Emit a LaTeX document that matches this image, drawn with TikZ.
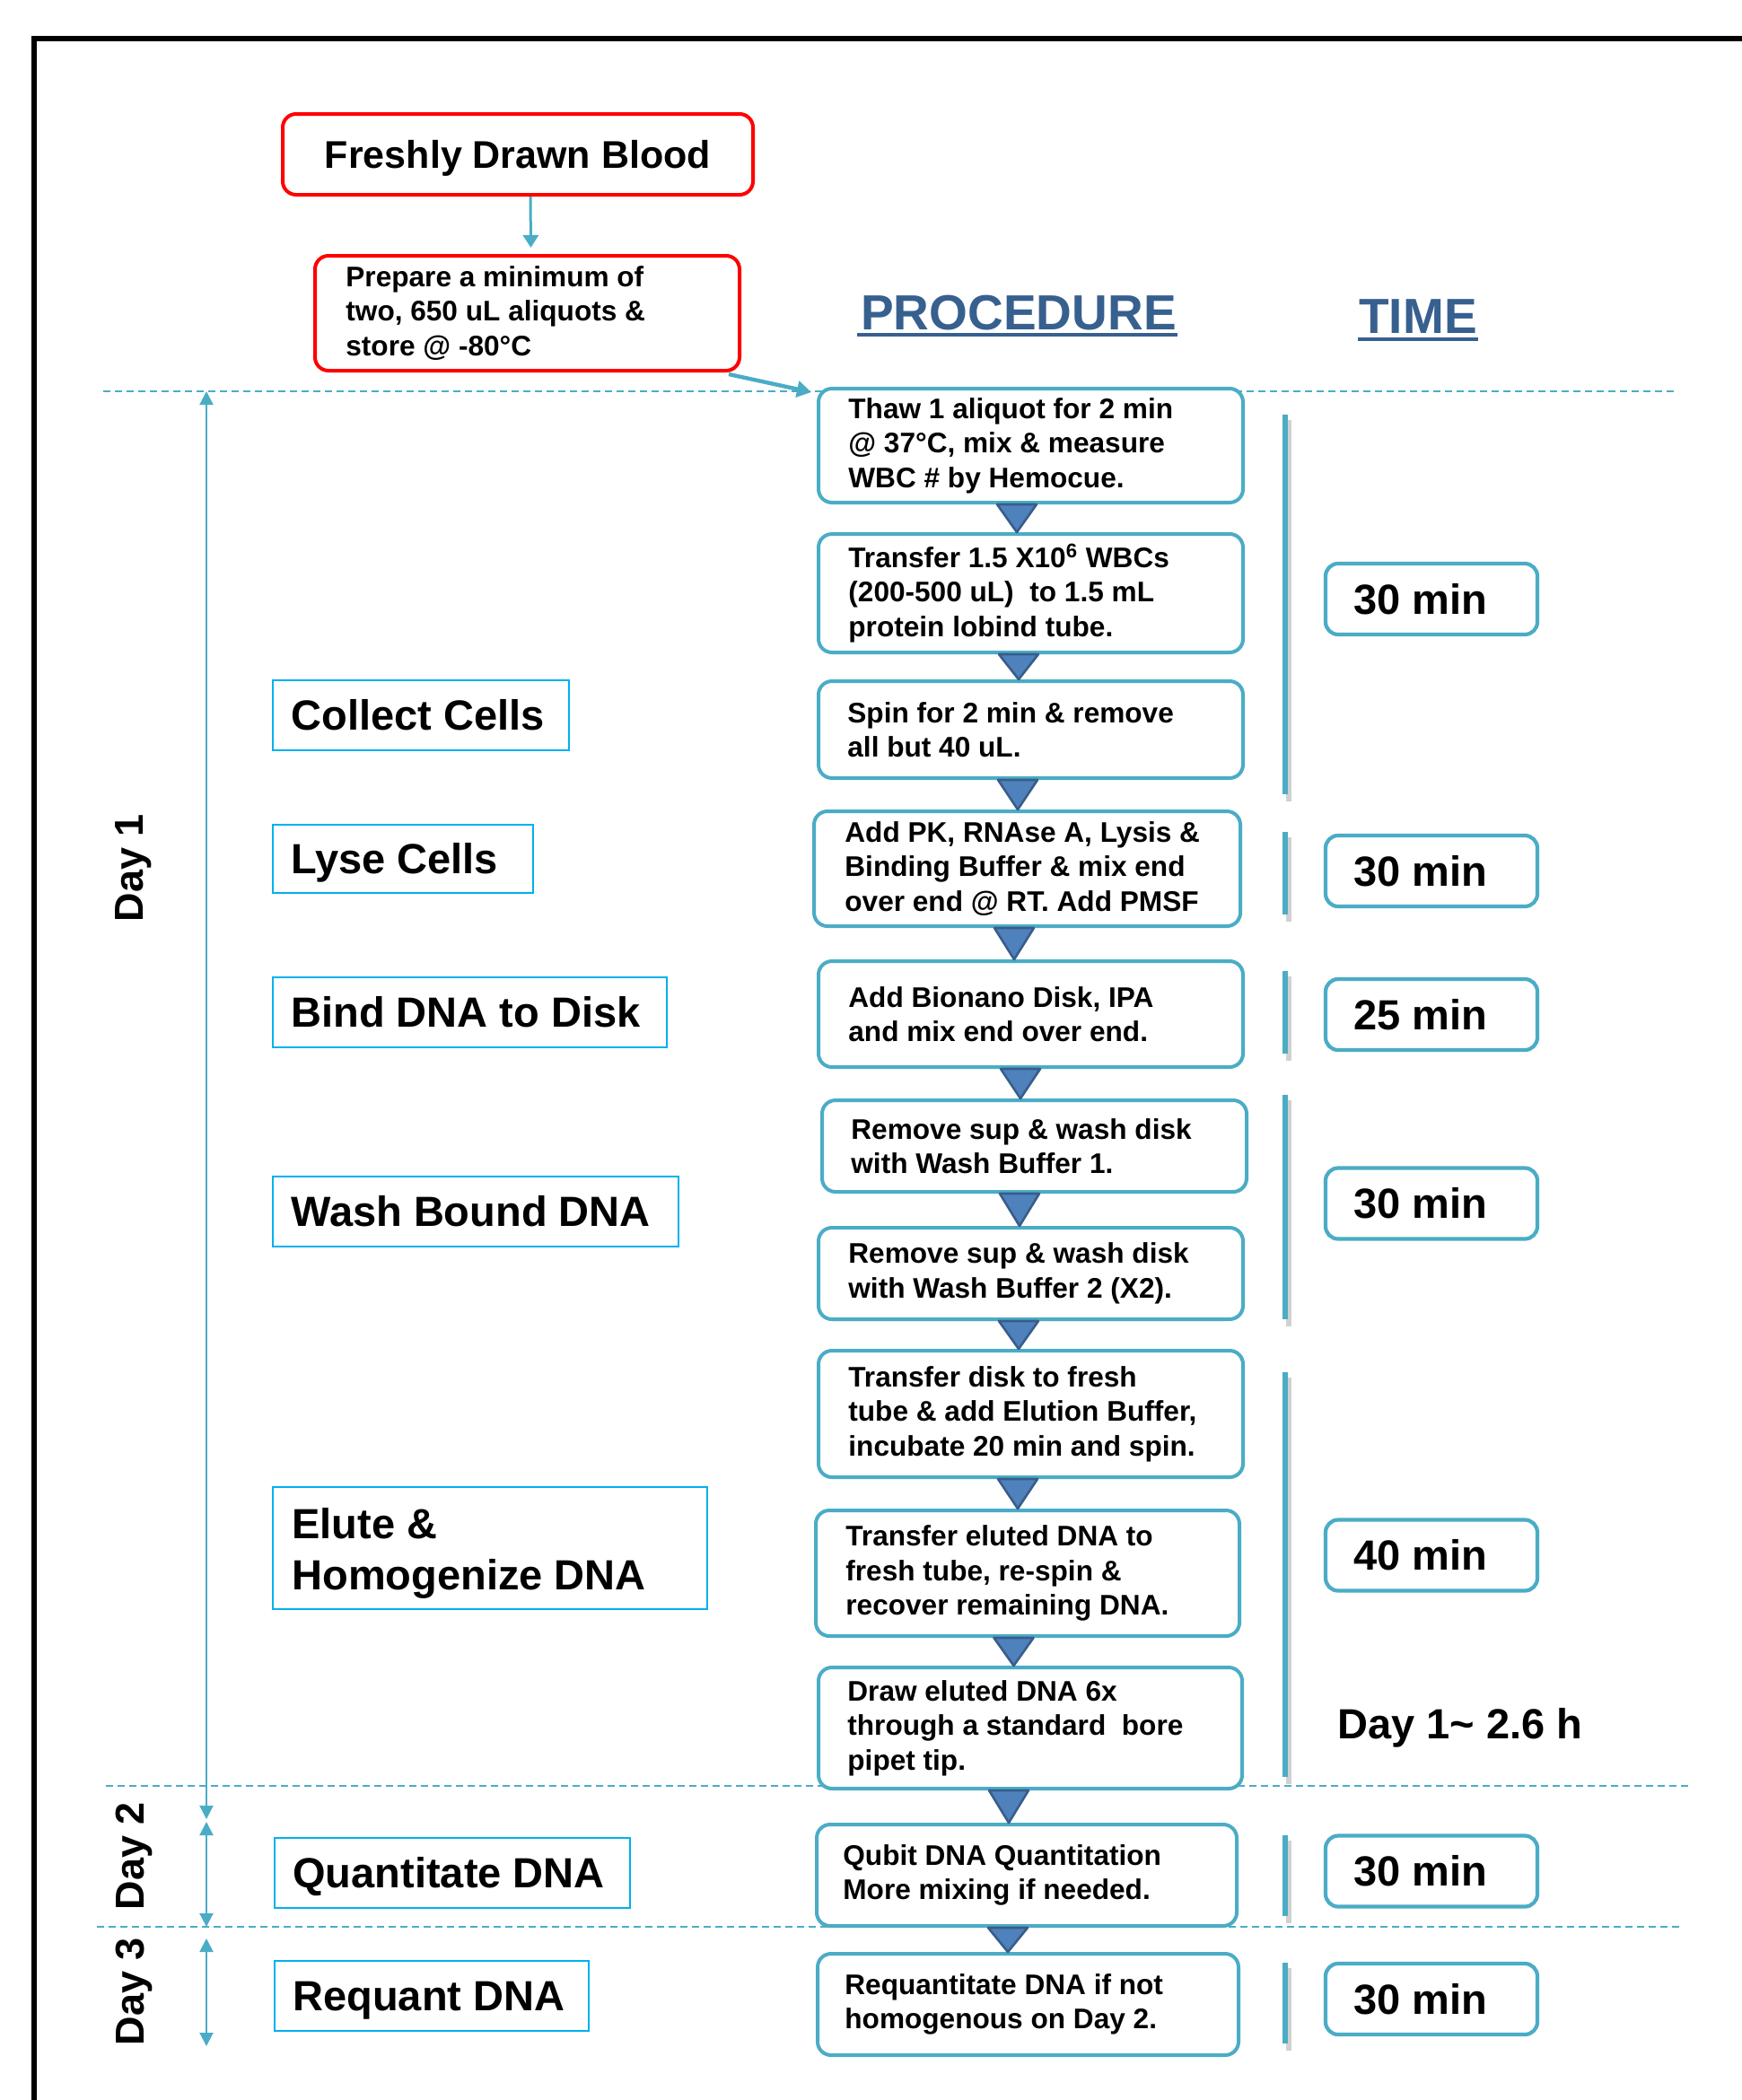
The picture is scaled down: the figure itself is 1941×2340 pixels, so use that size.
\documentclass[tikz,border=0pt]{standalone}
\usepackage{fontspec}
\setmainfont{Liberation Sans}
\usetikzlibrary{arrows.meta,calc}
\definecolor{aqua}{HTML}{4BACC6}
\definecolor{cyanb}{HTML}{00B0F0}
\definecolor{trifill}{HTML}{4F81BD}
\definecolor{triline}{HTML}{385D8A}
\definecolor{titleblue}{HTML}{37608F}
\newcommand{\downtri}[3]{\filldraw[tri] ($(#1.south)+(#3-22,0)$) -- ($(#1.south)+(#3+22,0)$) -- ($(#1.south |- #2.north)+(#3,0)$) -- cycle;}
\begin{document}
\begin{tikzpicture}[x=0.5pt,y=-0.5pt,
  procbox/.style={draw=aqua, line width=2pt, rounded corners=7.5pt, fill=white, inner sep=0pt},
  redbox/.style={draw=red, line width=2pt, rounded corners=7.5pt, fill=white, inner sep=0pt},
  timebox/.style={draw=aqua, line width=2.1pt, rounded corners=7pt, fill=white, inner sep=0pt, minimum width=118pt, minimum height=39.5pt},
  lblbox/.style={draw=cyanb, line width=1pt, fill=white, inner sep=0pt},
  proctext/.style={font=\bfseries\fontsize{15.8}{19.25}\selectfont, align=left, inner sep=0pt, anchor=west},
  lbltext/.style={font=\bfseries\fontsize{23.5}{28.5}\selectfont, align=left, inner sep=0pt, anchor=west, text height=16.8pt, text depth=0pt},
  timetext/.style={font=\bfseries\fontsize{23.5}{28.5}\selectfont, inner sep=0pt, anchor=west, text height=16.8pt, text depth=0pt},
  daytext/.style={font=\bfseries\fontsize{22.5}{27}\selectfont, inner sep=0pt, rotate=90},
  titletext/.style={font=\bfseries\fontsize{27.5}{33}\selectfont, text=titleblue, inner sep=0pt, anchor=base},
  tri/.style={fill=trifill, draw=triline, line width=1.3pt, line join=round},
  dashsep/.style={draw=aqua, line width=1.1pt, dash pattern=on 4pt off 2.5pt},
  dayarrow/.style={draw=aqua, line width=1pt, {Triangle[width=7.5pt,length=7.5pt]}-{Triangle[width=7.5pt,length=7.5pt]}},
  timeline/.style={draw=aqua, line width=3pt},
  tshadow/.style={draw=black!18, line width=3pt},
  bluearrow/.style={draw=aqua, line width=1.5pt, -{Triangle[width=8.5pt,length=7pt]}},
  bluearrowb/.style={draw=aqua, line width=2.2pt, -{Triangle[width=9pt,length=8pt]}}
]
\useasboundingbox (0,0) rectangle (1941,2340);
\fill[white] (0,0) rectangle (1941,2340);
% frame
\draw[line width=2.9pt, line join=miter] (38,2340) -- (38,43) -- (1941,43);

% separators
\draw[dashsep] (115,436) -- (1865,436);
\draw[dashsep] (118,1990) -- (1884,1990);
\draw[dashsep] (108,2147) -- (1875,2147);

% titles
\node[titletext] (proc) at (1135,367) {PROCEDURE};
\draw[titleblue, line width=1.6pt] ($(proc.base west)+(-4,6)$) -- ($(proc.base east)+(1,6)$);
\node[titletext] (time) at (1580,371) {TIME};
\draw[titleblue, line width=1.6pt] ($(time.base west)+(-1,7)$) -- ($(time.base east)+(1,7)$);

% red boxes
\node[redbox, minimum width=262pt, minimum height=45pt, font=\bfseries\fontsize{21.5}{26}\selectfont, text height=15.4pt, text depth=0pt] (blood) at (577,172) {Freshly Drawn Blood};
\node[redbox, minimum width=236.5pt, minimum height=64pt] (prep) at (587.5,349) {};
\node[proctext] (prept) at ($(prep.west)+(36,0)$) {Prepare a minimum of\\two, 650 uL aliquots \&\\store @ -80°C};

% procedure boxes
\node[procbox, minimum width=236.5pt, minimum height=63.5pt] (p1) at (1148.5,496.5) {};
\node[procbox, minimum width=236.5pt, minimum height=66pt] (p2) at (1148.5,661) {};
\node[procbox, minimum width=236.5pt, minimum height=54pt] (p3) at (1148.5,813) {};
\node[procbox, minimum width=237.5pt, minimum height=64pt] (p4) at (1144.5,968) {};
\node[procbox, minimum width=236.5pt, minimum height=59pt] (p5) at (1148.5,1130) {};
\node[procbox, minimum width=236.5pt, minimum height=51pt] (p6) at (1152.5,1277) {};
\node[procbox, minimum width=236.5pt, minimum height=51pt] (p7) at (1148.5,1419) {};
\node[procbox, minimum width=236.5pt, minimum height=70.5pt] (p8) at (1148.5,1575.5) {};
\node[procbox, minimum width=236pt, minimum height=70pt] (p9) at (1145,1753) {};
\node[procbox, minimum width=236pt, minimum height=67.5pt] (p10) at (1148,1925.5) {};
\node[procbox, minimum width=234pt, minimum height=56.5pt] (p11) at (1144,2089.5) {};
\node[procbox, minimum width=234.5pt, minimum height=56.5pt] (p12) at (1145.5,2233.5) {};

\node[proctext] (p1t) at ($(p1.west)+(35,0)$) {Thaw 1 aliquot for 2 min\\@ 37°C, mix \& measure\\WBC \# by Hemocue.};
\node[proctext] (p2t) at ($(p2.west)+(35,0)$) {Transfer 1.5 X10\textsuperscript{6} WBCs\\(200-500 uL)~ to 1.5 mL\\protein lobind tube.};
\node[proctext] (p3t) at ($(p3.west)+(34,0)$) {Spin for 2 min \& remove\\all but 40 uL.};
\node[proctext] (p4t) at ($(p4.west)+(36,0)$) {Add PK, RNAse A, Lysis \&\\Binding Buffer \& mix end\\over end @ RT. Add PMSF};
\node[proctext] (p5t) at ($(p5.west)+(35,0)$) {Add Bionano Disk, IPA\\and mix end over end.};
\node[proctext] (p6t) at ($(p6.west)+(34,0)$) {Remove sup \& wash disk\\with Wash Buffer 1.};
\node[proctext] (p7t) at ($(p7.west)+(35,0)$) {Remove sup \& wash disk\\with Wash Buffer 2 (X2).};
\node[proctext] (p8t) at ($(p8.west)+(35,0)$) {Transfer disk to fresh\\tube \& add Elution Buffer,\\incubate 20 min and spin.};
\node[proctext] (p9t) at ($(p9.west)+(35,0)$) {Transfer eluted DNA to\\fresh tube, re-spin \&\\recover remaining DNA.};
\node[proctext] (p10t) at ($(p10.west)+(34,0)$) {Draw eluted DNA 6x\\through a standard~ bore\\pipet tip.};
\node[proctext] (p11t) at ($(p11.west)+(31,0)$) {Qubit DNA Quantitation\\More mixing if needed.};
\node[proctext] (p12t) at ($(p12.west)+(32,0)$) {Requantitate DNA if not\\homogenous on Day 2.};

% arrows from red boxes
\draw[bluearrow] ($(blood.south)+(14,0)$) -- ($(prep.north)+(4,-7)$);
\draw[bluearrowb] ($(prep.south east)+(-14,2)$) -- ($(p1.north west)+(-6,6)$);

% triangles
\downtri{p1}{p2}{-15.5}
\downtri{p2}{p3}{-13.5}
\downtri{p3}{p4}{-14.5}
\downtri{p4}{p5}{-14.5}
\downtri{p5}{p6}{-11.5}
\downtri{p6}{p7}{-16.5}
\downtri{p7}{p8}{-13.5}
\downtri{p8}{p9}{-14.5}
\downtri{p9}{p10}{-15.5}
\downtri{p10}{p11}{-24}
\downtri{p11}{p12}{-21}

% left labels
\node[lblbox, minimum width=165pt, minimum height=39pt] (l1) at (469,797) {};
\node[lblbox, minimum width=145pt, minimum height=38pt] (l2) at (449,957) {};
\node[lblbox, minimum width=219.5pt, minimum height=39pt] (l3) at (523.5,1128) {};
\node[lblbox, minimum width=226pt, minimum height=39pt] (l4) at (530,1350) {};
\node[lblbox, minimum width=242pt, minimum height=68pt] (l5) at (546,1725) {};
\node[lblbox, minimum width=198pt, minimum height=39pt] (l6) at (504,2087) {};
\node[lblbox, minimum width=175pt, minimum height=39pt] (l7) at (481,2224) {};
\node[lbltext] (l1t) at ($(l1.west)+(21,0)$) {Collect Cells};
\node[lbltext] (l2t) at ($(l2.west)+(21,0)$) {Lyse Cells};
\node[lbltext] (l3t) at ($(l3.west)+(21,0)$) {Bind DNA to Disk};
\node[lbltext] (l4t) at ($(l4.west)+(21,0)$) {Wash Bound DNA};
\node[font=\bfseries\fontsize{23.5}{28.5}\selectfont, align=left, inner sep=0pt, anchor=base west] (l5t) at ($(l5.west)+(22,46)$) {Elute \&\\Homogenize DNA};
\node[lbltext] (l6t) at ($(l6.west)+(21,0)$) {Quantitate DNA};
\node[lbltext] (l7t) at ($(l7.west)+(21,0)$) {Requant DNA};

% day arrows and labels
\coordinate (d1a) at (230,436);
\coordinate (d1b) at (230,2027);
\coordinate (d2a) at (230,2030);
\coordinate (d2b) at (230,2147);
\coordinate (d3a) at (230,2160);
\coordinate (d3b) at (230,2280);
\draw[dayarrow] (d1a) -- (d1b);
\draw[dayarrow] (d2a) -- (d2b);
\draw[dayarrow] (d3a) -- (d3b);
\node[daytext] (day1) at (149,967) {Day 1};
\node[daytext] (day2) at (149,2068) {Day 2};
\node[daytext] (day3) at (149,2219) {Day 3};

% time lines
\foreach \ya/\yb in {462/885, 927/1019, 1082/1174, 1220/1470, 1529/1980, 2045/2135, 2187/2277}{
  \draw[tshadow] (1436,\ya+6) -- (1436,\yb+8);
  \draw[timeline] (1432,\ya) -- (1432,\yb);
}

% time boxes
\node[timebox] (t1) at (1595,667.5) {};
\node[timebox] (t2) at (1595,970.5) {};
\node[timebox] (t3) at (1595,1130.5) {};
\node[timebox] (t4) at (1595,1341) {};
\node[timebox] (t5) at (1595,1733) {};
\node[timebox] (t6) at (1595,2085) {};
\node[timebox] (t7) at (1595,2227.5) {};
\node[timetext] (t1t) at ($(t1.west)+(33,0)$) {30 min};
\node[timetext] (t2t) at ($(t2.west)+(33,0)$) {30 min};
\node[timetext] (t3t) at ($(t3.west)+(33,0)$) {25 min};
\node[timetext] (t4t) at ($(t4.west)+(33,0)$) {30 min};
\node[timetext] (t5t) at ($(t5.west)+(33,0)$) {40 min};
\node[timetext] (t6t) at ($(t6.west)+(33,0)$) {30 min};
\node[timetext] (t7t) at ($(t7.west)+(33,0)$) {30 min};
\node[font=\bfseries\fontsize{23.5}{28.5}\selectfont, inner sep=0pt, anchor=base west] (total) at (1490,1937) {Day 1\textasciitilde{} 2.6 h};
\end{tikzpicture}
\end{document}
